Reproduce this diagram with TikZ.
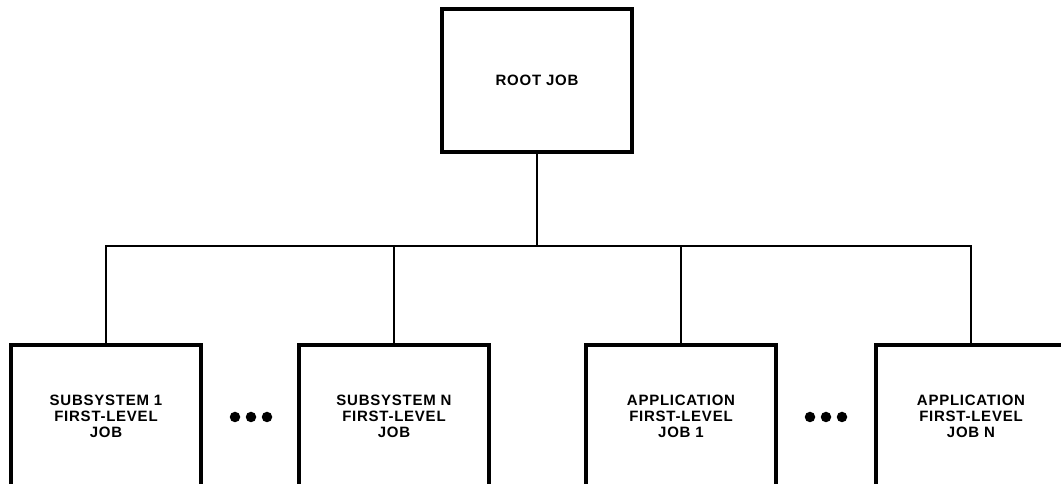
\documentclass[tikz,border=0pt]{standalone}
\usepackage{fontspec}
\setmainfont{Liberation Sans}[LetterSpace=5]
\begin{document}
\begin{tikzpicture}[x=1pt,y=1pt,
  jobbox/.style={draw=black, line width=3.2pt, minimum width=190pt, minimum height=143pt,
    inner sep=0pt, align=center, font=\bfseries\fontsize{15}{15.8}\selectfont},
  link/.style={draw=black, line width=1.4pt},
  dot/.style={circle, fill=black, inner sep=0pt, minimum size=10.5pt}]
\useasboundingbox (0,0) rectangle (1061,484);
\clip (0,0) rectangle (1061,484);
% top of the hierarchy
\node[jobbox] (root) at (537,403.5) {ROOT JOB};
% first-level jobs
\node[jobbox] (s1) at (106,67.5) {SUBSYSTEM 1\\FIRST-LEVEL\\JOB};
\node[jobbox] (sn) at (394,67.5) {SUBSYSTEM N\\FIRST-LEVEL\\JOB};
\node[jobbox] (a1) at (681,67.5) {APPLICATION\\FIRST-LEVEL\\JOB 1};
\node[jobbox] (an) at (971,67.5) {APPLICATION\\FIRST-LEVEL\\JOB N};
% ellipses between the groups
\node[dot] (d1) at (235,67) {};
\node[dot] (d2) at (251,67) {};
\node[dot] (d3) at (267,67) {};
\node[dot] (e1) at (810,67) {};
\node[dot] (e2) at (826,67) {};
\node[dot] (e3) at (842,67) {};
% tree connectors
\coordinate (bus) at (0,238);
\draw[link] (root.south) -- (root.south |- bus);
\draw[link] (s1.north) -- (s1.north |- bus) -- (an.north |- bus) -- (an.north);
\draw[link] (sn.north) -- (sn.north |- bus);
\draw[link] (a1.north) -- (a1.north |- bus);
\end{tikzpicture}
\end{document}
